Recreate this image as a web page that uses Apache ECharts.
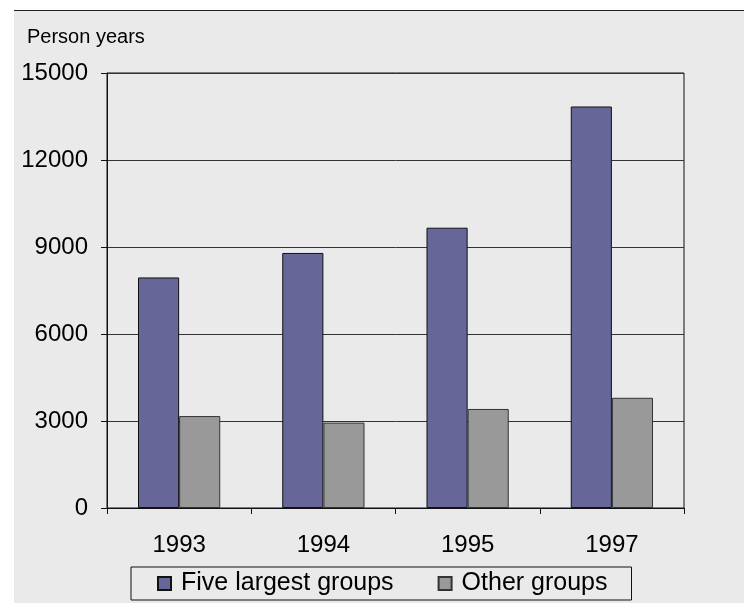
<!DOCTYPE html>
<html>
<head>
<meta charset="utf-8">
<script src="https://cdn.jsdelivr.net/npm/echarts@6/dist/echarts.min.js"></script>
<style>
  html, body { margin: 0; padding: 0; background: #fff; }
  #panel { position: absolute; left: 14px; top: 10px; right: 0; bottom: 0; background: #eaeaea; border-top: 1px solid #222; }
  #chart-container { position: absolute; left: 0; top: 0; width: 744px; height: 603px; }
</style>
</head>
<body>
<div id="panel"></div>
<div id="chart-container"></div>
<script>
var years = ["1993", "1994", "1995", "1997"];
var fiveLargest = [7950, 8795, 9665, 13845];
var otherGroups = [3170, 2945, 3415, 3800];
var seriesNames = ["Five largest groups", "Other groups"];

var dom = document.getElementById("chart-container");
var myChart = echarts.init(dom, null, { renderer: "canvas" });
var font = "'Liberation Sans', Arial, sans-serif";

var option = {
  backgroundColor: "transparent",
  animation: false,
  textStyle: { fontFamily: font, color: "#000" },
  title: {
    text: "Person years",
    left: 27,
    top: 27,
    padding: 0,
    textStyle: { fontSize: 20, fontWeight: "normal", color: "#000", fontFamily: font }
  },
  grid: {
    left: 107,
    top: 73,
    width: 577,
    height: 435,
    show: true,
    borderColor: "#111",
    borderWidth: 1,
    backgroundColor: "transparent"
  },
  legend: {
    left: 131,
    top: 567,
    padding: [4, 24, 4, 26],
    borderColor: "#111",
    borderWidth: 1,
    itemWidth: 13,
    itemHeight: 13,
    itemGap: 44,
    icon: "rect",
    textStyle: { fontSize: 25, color: "#000", fontFamily: font, padding: [0, 0, 0, 5] },
    data: seriesNames
  },
  xAxis: {
    type: "category",
    data: years,
    axisLine: { lineStyle: { color: "#111", width: 1 } },
    axisTick: { show: true, length: 6, lineStyle: { color: "#111" } },
    axisLabel: { fontSize: 24, color: "#000", margin: 25, fontFamily: font }
  },
  yAxis: {
    type: "value",
    min: 0,
    max: 15000,
    interval: 3000,
    axisLine: { show: true, lineStyle: { color: "#111", width: 1 } },
    axisTick: { show: true, length: 6, lineStyle: { color: "#111" } },
    axisLabel: {
      fontSize: 24,
      color: "#000",
      margin: 19,
      fontFamily: font,
      formatter: function (v) { return String(v); }
    },
    splitLine: { lineStyle: { color: "#333", width: 1 } }
  },
  series: [
    {
      name: seriesNames[0],
      type: "bar",
      data: fiveLargest,
      barGap: "0%",
      barCategoryGap: "43%",
      itemStyle: { color: "#666699", borderColor: "#111", borderWidth: 1 }
    },
    {
      name: seriesNames[1],
      type: "bar",
      data: otherGroups,
      itemStyle: { color: "#999999", borderColor: "#333", borderWidth: 1 }
    }
  ]
};

myChart.setOption(option);
window.addEventListener("resize", myChart.resize);
</script>
</body>
</html>
